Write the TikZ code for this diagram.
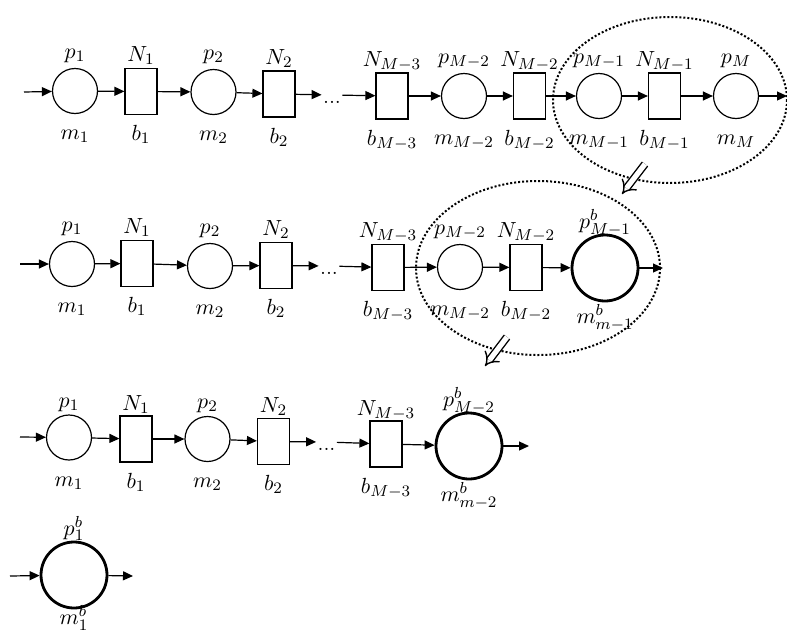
\documentclass[tikz,border=0pt]{standalone}
\usepackage{tikz}
\usetikzlibrary{arrows.meta,positioning,shapes}

\begin{document}
\begin{tikzpicture}[x=0.5pt,y=-0.5pt,
		place/.style={draw, circle, minimum size=22.5pt, inner sep=0pt, line width=0.6pt},
		bigplace/.style={draw, circle, minimum size=33pt, inner sep=0pt, line width=1.4pt},
		buf/.style={draw, rectangle, minimum width=16pt, minimum height=23pt, inner sep=0pt, line width=0.6pt},
		gap/.style={inner sep=0.5pt, text height=8pt, text depth=0pt, font=\fontsize{11}{13}\selectfont},
		flow/.style={-{Triangle[length=5pt,width=4.5pt]}, line width=0.6pt},
		group/.style={densely dotted, line width=1pt},
		shrink/.style={double, double distance=2.6pt, line width=0.7pt, -{Implies}},
		every label/.style={font=\fontsize{11}{13}\selectfont, inner sep=1pt, text height=7.5pt, text depth=2.5pt},
		toplab/.style={label={[label distance=1pt]above:#1}},
		buftop/.style={label={[label distance=-0.5pt]above:#1}},
		botlab/.style={label={[label distance=4pt]below:#1}}]
	\useasboundingbox (0,0) rectangle (787,632);

	% first line
	\coordinate (in1) at (24,92);
	\node[place, toplab=$p_1$, botlab=$m_1$] (p1) at (75,91) {};
	\node[buf, buftop=$N_1$, botlab=$b_1$] (b1) at (141,91.5) {};
	\node[place, toplab=$p_2$, botlab=$m_2$] (p2) at (213.5,92) {};
	\node[buf, buftop=$N_2$, botlab=$b_2$] (b2) at (279,94) {};
	\node[gap] (g1) at (332,95) {...};
	\node[buf, buftop=$N_{M-3}$, botlab=$b_{M-3}$] (bM3) at (392,96) {};
	\node[place, toplab=$p_{M-2}$, botlab=$m_{M-2}$] (pM2) at (464,96) {};
	\node[buf, buftop=$N_{M-2}$, botlab=$b_{M-2}$] (bM2) at (529.5,96) {};
	\node[place, toplab=$p_{M-1}$, botlab=$m_{M-1}$] (pM1) at (599,96) {};
	\node[buf, buftop=$N_{M-1}$, botlab=$b_{M-1}$] (bM1) at (664.5,96) {};
	\node[place, toplab=$p_M$, botlab=$m_M$] (pM) at (736,96) {};
	\coordinate (out1) at (787,96);

	\draw[flow] (in1)--(p1);
	\draw[flow] (p1)--(b1);
	\draw[flow] (b1)--(p2);
	\draw[flow] (p2)--(b2);
	\draw[flow] (b2)--(g1);
	\draw[flow] (g1)--(bM3);
	\draw[flow] (bM3)--(pM2);
	\draw[flow] (pM2)--(bM2);
	\draw[flow] (bM2)--(pM1);
	\draw[flow] (pM1)--(bM1);
	\draw[flow] (bM1)--(pM);
	\draw[flow] (pM)--(out1);
	\draw[group] (670,100) ellipse [x radius=117, y radius=83];

	\coordinate (s1) at (645,164);
	\coordinate (e1) at (622,194);
	\draw[shrink] (s1)--(e1);

	% second line
	\coordinate (in2) at (20,264);
	\node[place, toplab=$p_1$, botlab=$m_1$] (q1) at (72,264) {};
	\node[buf, buftop=$N_1$, botlab=$b_1$] (c1) at (137,263.5) {};
	\node[place, toplab=$p_2$, botlab=$m_2$] (q2) at (210,266) {};
	\node[buf, buftop=$N_2$, botlab=$b_2$] (c2) at (276,265.5) {};
	\node[gap] (g2) at (329,266) {...};
	\node[buf, buftop=$N_{M-3}$, botlab=$b_{M-3}$] (cM3) at (388,267.5) {};
	\node[place, toplab=$p_{M-2}$, botlab=$m_{M-2}$] (qM2) at (460,267) {};
	\node[buf, buftop=$N_{M-2}$, botlab=$b_{M-2}$] (cM2) at (526,267.5) {};
	\node[bigplace, label={[label distance=-1pt]above:$p^b_{M-1}$},
		label={[label distance=2pt]below:$m^b_{m-1}$}] (qB) at (605,268) {};
	\coordinate (out2) at (663,268);

	\draw[flow] (in2)--(q1);
	\draw[flow] (q1)--(c1);
	\draw[flow] (c1)--(q2);
	\draw[flow] (q2)--(c2);
	\draw[flow] (c2)--(g2);
	\draw[flow] (g2)--(cM3);
	\draw[flow] (cM3)--(qM2);
	\draw[flow] (qM2)--(cM2);
	\draw[flow] (cM2)--(qB);
	\draw[flow] (qB)--(out2);
	\draw[group] (538,268) ellipse [x radius=122, y radius=87];

	\coordinate (s2) at (507,337);
	\coordinate (e2) at (485,366);
	\draw[shrink] (s2)--(e2);

	% third line
	\begin{scope}[toplab/.style={label={[label distance=0pt]above:#1}},
		buftop/.style={label={[label distance=-1pt]above:#1}}]
	\coordinate (in3) at (20,437);
	\node[place, toplab=$p_1$, botlab=$m_1$] (r1) at (69,437.5) {};
	\node[buf, buftop=$N_1$, botlab=$b_1$] (d1) at (136,439) {};
	\node[place, toplab=$p_2$, botlab=$m_2$] (r2) at (207.5,439) {};
	\node[buf, buftop=$N_2$, botlab=$b_2$] (d2) at (273.5,441.5) {};
	\node[gap] (g3) at (326.5,442) {...};
	\node[buf, buftop=$N_{M-3}$, botlab=$b_{M-3}$] (dM3) at (386,444) {};
	\node[bigplace, label={[label distance=-1pt]above:$p^b_{M-2}$},
		label={[label distance=2pt]below:$m^b_{m-2}$}] (rB) at (469,446) {};
	\coordinate (out3) at (529,446);
	\end{scope}

	\draw[flow] (in3)--(r1);
	\draw[flow] (r1)--(d1);
	\draw[flow] (d1)--(r2);
	\draw[flow] (r2)--(d2);
	\draw[flow] (d2)--(g3);
	\draw[flow] (g3)--(dM3);
	\draw[flow] (dM3)--(rB);
	\draw[flow] (rB)--(out3);

	% last line
	\coordinate (in4) at (10,576);
	\node[bigplace, label={[label distance=-1pt]above:$p^b_1$},
		label={[label distance=-1pt]below:$m^b_1$}] (sB) at (74,575) {};
	\coordinate (out4) at (133,576);

	\draw[flow] (in4)--(sB);
	\draw[flow] (sB)--(out4);
\end{tikzpicture}
\end{document}
